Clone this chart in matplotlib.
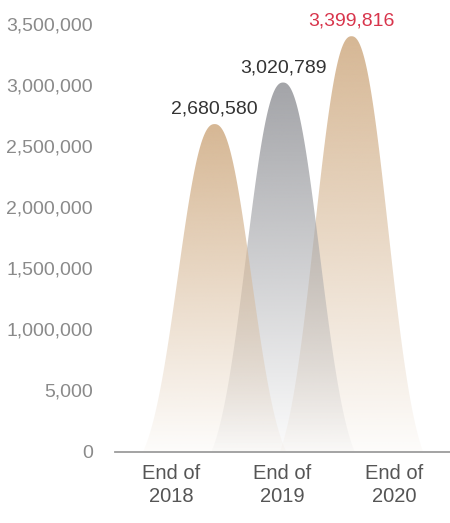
import numpy as np
import matplotlib
matplotlib.use("Agg")
import matplotlib.pyplot as plt
from matplotlib.patches import Polygon
from matplotlib.colors import to_rgb

# --- data -------------------------------------------------------------
categories = ["End of\n2018", "End of\n2019", "End of\n2020"]
values = [2680580, 3020789, 3399816]
value_labels = ["2,680,580", "3,020,789", "3,399,816"]
y_ticks = [0, 500000, 1000000, 1500000, 2000000, 2500000, 3000000, 3500000]
y_tick_labels = ["0", "5,000", "1,000,000", "1,500,000", "2,000,000",
                 "2,500,000", "3,000,000", "3,500,000"]

# --- style ------------------------------------------------------------
fill_colors = ["#d6b794", "#a3a4a8", "#d6b794"]
label_colors = ["#333333", "#333333", "#d8354c"]
draw_order = [2, 1, 0]          # later years sit underneath earlier ones
peak_center = 1.505             # x of the middle peak (category units)
peak_step = 0.613               # distance between neighbouring peaks
half_width = 0.64               # half base width of each peak

plt.rcParams["font.family"] = ["Liberation Sans", "DejaVu Sans"]

W, H = 450, 523
fig = plt.figure(figsize=(W / 100, H / 100), dpi=100)
base_px = 451.5
ax = fig.add_axes([115 / W, (H - base_px) / H, 335 / W, base_px / H])

ymax = 3.5e6 + 24 * (3.5e6 / (base_px - 24))


def profile(u, s=0.66, n=2.3):
    """Bell-shaped outline, 1 at the centre and 0 at |u| = 1."""
    g = np.exp(-(np.abs(u) / s) ** n)
    g1 = np.exp(-(1.0 / s) ** n)
    return np.clip((g - g1) / (1 - g1), 0, None)


for z, i in enumerate(draw_order):
    c = peak_center + (i - 1) * peak_step
    h = values[i]
    u = np.linspace(-1, 1, 401)
    xs = c + u * half_width
    ys = h * profile(u)
    poly = Polygon(np.column_stack([xs, ys]), closed=True,
                   facecolor="none", edgecolor="none", transform=ax.transData)
    ax.add_patch(poly)

    t = np.linspace(0, 1, 256)[:, None]
    rgba = np.zeros((256, 2, 4))
    rgba[..., :3] = to_rgb(fill_colors[i])
    rgba[..., 3] = (0.04 + 0.96 * t) * np.ones((1, 2))
    im = ax.imshow(rgba, extent=[c - half_width, c + half_width, 0, h],
                   origin="lower", aspect="auto", interpolation="bilinear",
                   zorder=1 + z)
    im.set_clip_path(poly)

    ax.annotate(value_labels[i], (c, h), xytext=(0, 7.5),
                textcoords="offset points", ha="center", va="baseline",
                fontsize=14, color=label_colors[i], annotation_clip=False,
                zorder=10)

ax.set_xlim(0, 3)
ax.set_ylim(0, ymax)

ax.set_yticks(y_ticks)
ax.set_yticklabels(y_tick_labels)
ax.set_xticks([0.5, 1.5, 2.5])
ax.set_xticklabels(categories)

for side in ("left", "top", "right"):
    ax.spines[side].set_visible(False)
ax.spines["bottom"].set_color("#9c9c9c")
ax.spines["bottom"].set_linewidth(1.3)
ax.spines["bottom"].set_zorder(20)

ax.tick_params(axis="y", length=0, pad=16, labelsize=14, labelcolor="#8a8a8a")
ax.tick_params(axis="x", length=0, pad=9, labelsize=14.5, labelcolor="#555555")
for lbl in ax.get_xticklabels():
    lbl.set_linespacing(1.3)

ax.set_facecolor("white")
fig.savefig("out.png", dpi=100, facecolor="white")
